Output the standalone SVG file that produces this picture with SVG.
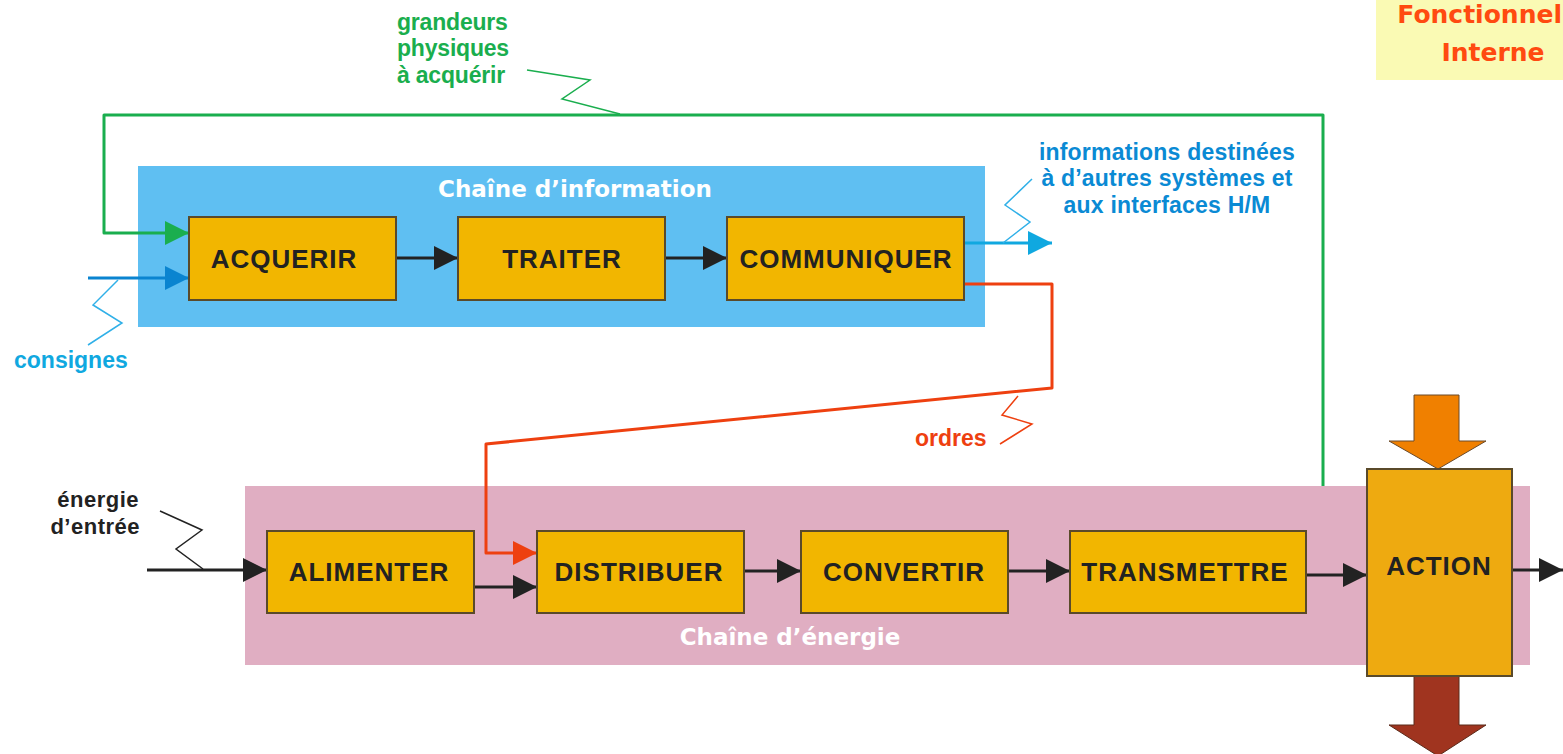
<svg xmlns="http://www.w3.org/2000/svg" width="1563" height="754" viewBox="0 0 1563 754">
<style>
.box{fill:#f2b600;stroke:#5a4a2a;stroke-width:2}
.bt{font-family:"Liberation Sans",Arial,sans-serif;font-weight:bold;font-size:26px;letter-spacing:1px;fill:#222;text-anchor:middle}
.lbl{font-family:"Liberation Sans",Arial,sans-serif;font-weight:bold;font-size:23px}
.ch{font-family:"DejaVu Sans",sans-serif;font-weight:bold;font-size:23px;fill:#fff;text-anchor:middle}
.blk{stroke:#222;stroke-width:3;fill:none}
.zz{fill:none;stroke-width:1.5}
</style>
<defs>
<marker id="ab" markerUnits="userSpaceOnUse" markerWidth="26" markerHeight="26" refX="24" refY="13" orient="auto"><path d="M0,1 L24,13 L0,25 Z" fill="#222"/></marker>
<marker id="ag" markerUnits="userSpaceOnUse" markerWidth="26" markerHeight="26" refX="24" refY="13" orient="auto"><path d="M0,1 L24,13 L0,25 Z" fill="#1aae4e"/></marker>
<marker id="au" markerUnits="userSpaceOnUse" markerWidth="26" markerHeight="26" refX="24" refY="13" orient="auto"><path d="M0,1 L24,13 L0,25 Z" fill="#0a84d0"/></marker>
<marker id="ac" markerUnits="userSpaceOnUse" markerWidth="26" markerHeight="26" refX="24" refY="13" orient="auto"><path d="M0,1 L24,13 L0,25 Z" fill="#10a8e0"/></marker>
<marker id="ar" markerUnits="userSpaceOnUse" markerWidth="26" markerHeight="26" refX="24" refY="13" orient="auto"><path d="M0,1 L24,13 L0,25 Z" fill="#ee4010"/></marker>
</defs>
<rect width="1563" height="754" fill="#fff"/>

<g id="title">
<rect x="1376" y="0" width="187" height="80" fill="#fafab4"/>
<text x="1562" y="23" text-anchor="end" font-family="DejaVu Sans,sans-serif" font-weight="bold" font-size="25" fill="#ff4a10">Fonctionnel</text>
<text x="1493" y="61" text-anchor="middle" font-family="DejaVu Sans,sans-serif" font-weight="bold" font-size="25" fill="#ff4a10">Interne</text>
</g>

<g id="chaine-information">
<rect x="138" y="166" width="847" height="161" fill="#5fbff2"/>
<text class="ch" x="575" y="197">Chaîne d’information</text>
</g>
<g id="chaine-energie">
<rect x="245" y="486" width="1285" height="179" fill="#e0aec2"/>
<text class="ch" x="790" y="645">Chaîne d’énergie</text>
</g>

<g id="connectors">
<polyline points="1323,486 1323,115 104,115 104,233 189,233" stroke="#1aae4e" stroke-width="3" fill="none" stroke-linejoin="round" marker-end="url(#ag)"/>
<line x1="88" y1="278" x2="189" y2="278" stroke="#0a84d0" stroke-width="3" marker-end="url(#au)"/>
<line x1="396" y1="258" x2="458" y2="258" class="blk" marker-end="url(#ab)"/>
<line x1="665" y1="258" x2="727" y2="258" class="blk" marker-end="url(#ab)"/>
<line x1="964" y1="243" x2="1052" y2="243" stroke="#10a8e0" stroke-width="3" marker-end="url(#ac)"/>
<polyline points="964,284 1052,284 1052,388 486,444 486,553 537,553" stroke="#ee4010" stroke-width="3" fill="none" stroke-linejoin="round" marker-end="url(#ar)"/>
<line x1="147" y1="570" x2="267" y2="570" class="blk" marker-end="url(#ab)"/>
<line x1="474" y1="587" x2="537" y2="587" class="blk" marker-end="url(#ab)"/>
<line x1="744" y1="571" x2="801" y2="571" class="blk" marker-end="url(#ab)"/>
<line x1="1008" y1="571" x2="1070" y2="571" class="blk" marker-end="url(#ab)"/>
<line x1="1306" y1="575" x2="1367" y2="575" class="blk" marker-end="url(#ab)"/>
<line x1="1512" y1="570" x2="1563" y2="570" class="blk" marker-end="url(#ab)"/>
<polyline class="zz" stroke="#1aae4e" points="527,70 590,80 562,99 620,114"/>
<polyline class="zz" stroke="#30b0e8" points="118,280 93,305 122,323 88,345"/>
<polyline class="zz" stroke="#30b0e8" points="1003,243 1030,222 1005,205 1032,179"/>
<polyline class="zz" stroke="#ee4010" points="1018,396 1002,415 1032,424 1000,444"/>
<polyline class="zz" stroke="#222" points="160,511 202,530 176,549 203,569"/>
</g>

<g id="labels">
<text class="lbl" fill="#1aae4e" x="397" y="30" letter-spacing="-0.2">grandeurs</text>
<text class="lbl" fill="#1aae4e" x="397" y="56" letter-spacing="-0.2">physiques</text>
<text class="lbl" fill="#1aae4e" x="397" y="83" letter-spacing="-0.2">à acquérir</text>
<text class="lbl" fill="#10a8e0" x="14" y="368">consignes</text>
<g class="lbl" fill="#0a8ad4" text-anchor="middle" letter-spacing="0.2">
<text x="1167" y="160">informations destinées</text>
<text x="1167" y="186">à d’autres systèmes et</text>
<text x="1167" y="213">aux interfaces H/M</text>
</g>
<text class="lbl" fill="#ee4010" x="915" y="446">ordres</text>
<g font-family="Liberation Sans,Arial,sans-serif" font-weight="bold" font-size="22" fill="#222" text-anchor="end" letter-spacing="0.5">
<text x="139" y="507">énergie</text>
<text x="140" y="534">d’entrée</text>
</g>
</g>

<g id="acquerir"><rect class="box" x="189" y="217" width="207" height="83"/><text class="bt" x="284" y="268">ACQUERIR</text></g>
<g id="traiter"><rect class="box" x="458" y="217" width="207" height="83"/><text class="bt" x="562" y="268">TRAITER</text></g>
<g id="communiquer"><rect class="box" x="727" y="217" width="237" height="83"/><text class="bt" x="846" y="268">COMMUNIQUER</text></g>
<g id="alimenter"><rect class="box" x="267" y="531" width="207" height="82"/><text class="bt" x="369" y="581">ALIMENTER</text></g>
<g id="distribuer"><rect class="box" x="537" y="531" width="207" height="82"/><text class="bt" x="639" y="581">DISTRIBUER</text></g>
<g id="convertir"><rect class="box" x="801" y="531" width="207" height="82"/><text class="bt" x="904" y="581">CONVERTIR</text></g>
<g id="transmettre"><rect class="box" x="1070" y="531" width="236" height="82"/><text class="bt" x="1185" y="581">TRANSMETTRE</text></g>

<g id="action">
<path d="M1414,395 H1459 V441 H1486 L1438,469 L1389,441 H1414 Z" fill="#f08000" stroke="#6a4a2a" stroke-width="1"/>
<path d="M1414,676 H1459 V725 H1486 L1438,756 L1389,725 H1414 Z" fill="#a0341f" stroke="#5a2a1a" stroke-width="1"/>
<rect x="1367" y="469" width="145" height="207" fill="#eeaa10" stroke="#5a4a2a" stroke-width="2"/>
<text class="bt" x="1439" y="575">ACTION</text>
</g>
</svg>
